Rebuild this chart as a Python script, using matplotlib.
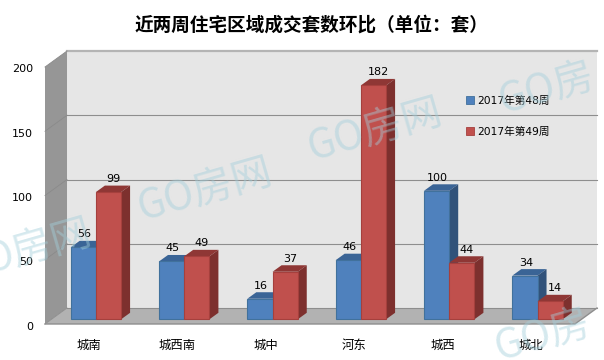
import matplotlib
matplotlib.use('Agg')
import matplotlib.pyplot as plt
from matplotlib.patches import Patch
from matplotlib.transforms import Bbox, ScaledTranslation

categories = ['城南', '城西南', '城中', '河东', '城西', '城北']
week_48 = [56, 45, 16, 46, 100, 34]
week_49 = [99, 49, 37, 182, 44, 14]
y_ticks = [0, 50, 100, 150, 200]
series_names = ['2017年第48周', '2017年第49周']
title = '近两周住宅区域成交套数环比（单位：套）'

CJK = ['Noto Sans CJK SC', 'DejaVu Sans']
LATIN = ['DejaVu Sans', 'Noto Sans CJK SC']

BLUE = ('#4F81BD', '#3A6496', '#31527A', '#41719C')
RED = ('#C0504D', '#8F3735', '#7D302E', '#A5403D')

W, H = 604, 360
PX_X = 88.3   # pixels per category
PX_Y = 1.285  # pixels per value unit


def dx(px):
    return px / PX_X


def dy(px):
    return px / PX_Y


fig = plt.figure(figsize=(W / 100, H / 100), dpi=100, facecolor='white')
ax = fig.add_axes([45 / W, (H - 324) / H, 530 / W, 257 / H])
ax.set_xlim(-0.5, 5.5)
ax.set_ylim(0, 200)
for spine in ax.spines.values():
    spine.set_visible(False)
ax.patch.set_visible(False)

ax.set_xticks(range(len(categories)))
ax.set_xticklabels(categories, family=CJK, fontsize=8.9)
ax.set_yticks(y_ticks)
ax.set_yticklabels(y_ticks, family=LATIN, fontsize=8)
ax.tick_params(axis='x', length=0, pad=11)
ax.tick_params(axis='y', length=0, pad=8.5)
nudge = ScaledTranslation(0, -1.5 / 100, fig.dpi_scale_trans)
for label in ax.get_yticklabels():
    label.set_transform(label.get_transform() + nudge)

# walls and floor of the box
back_x, back_y = dx(22), dy(16)
x0, x1 = -0.5, 5.5
ax.fill([x0 + back_x, x1 + back_x, x1 + back_x, x0 + back_x],
        [back_y, back_y, 200 + back_y, 200 + back_y],
        color='#E6E6E6', lw=0, clip_on=False, zorder=1)
ax.fill([x0, x0 + back_x, x0 + back_x, x0], [0, back_y, 200 + back_y, 200],
        color='#969696', lw=0, clip_on=False, zorder=1)
ax.fill([x0, x1, x1 + back_x, x0 + back_x], [0, 0, back_y, back_y],
        color='#B2B2B2', lw=0, clip_on=False, zorder=1)
for tick in y_ticks:
    ax.plot([x0 + back_x, x1 + back_x], [tick + back_y] * 2,
            color='#8E8E8E' if tick < 200 else '#B4B4B4',
            lw=0.8 if tick < 200 else 1.6, clip_on=False, zorder=2)
    ax.plot([x0, x0 + back_x], [tick, tick + back_y],
            color='#8A8A8A', lw=0.6, clip_on=False, zorder=2)
ax.plot([x0, x1, x1 + back_x], [0, 0, back_y], color='#8E8E8E', lw=1,
        clip_on=False, zorder=2)

# bars, drawn as oblique boxes standing on the floor
bar_w = dx(25.2)
base_x, base_y = dx(6.7), dy(4.7)
depth_x, depth_y = dx(9), dy(6.5)


def draw_bar(left, value, colors, zorder):
    front, top, side, edge = colors
    right = left + bar_w
    bottom = base_y
    upper = base_y + value
    ax.fill([left, left + depth_x, right + depth_x, right],
            [upper, upper + depth_y, upper + depth_y, upper],
            color=top, lw=0, clip_on=False, zorder=zorder)
    ax.fill([right, right + depth_x, right + depth_x, right],
            [bottom, bottom + depth_y, upper + depth_y, upper],
            color=side, lw=0, clip_on=False, zorder=zorder)
    ax.fill([left, right, right, left], [bottom, bottom, upper, upper],
            facecolor=front, edgecolor=edge, lw=0.8, clip_on=False, zorder=zorder)


for i, (a, b) in enumerate(zip(week_48, week_49)):
    left = i + base_x - bar_w
    draw_bar(left, a, BLUE, 3 + i * 0.1)
    draw_bar(i + base_x, b, RED, 3.05 + i * 0.1)
    ax.text(left + bar_w / 2 + dx(1), base_y + a + dy(13), str(a), family=LATIN, fontsize=8,
            ha='center', va='center', zorder=5)
    ax.text(i + base_x + bar_w / 2 + dx(5), base_y + b + dy(13), str(b), family=LATIN, fontsize=8,
            ha='center', va='center', zorder=5)

handles = [Patch(facecolor=BLUE[0], edgecolor=BLUE[3], lw=0.6, label=series_names[0]),
           Patch(facecolor=RED[0], edgecolor=RED[3], lw=0.6, label=series_names[1])]
ax.legend(handles=handles, loc='center left', bbox_to_anchor=(466 / W, (H - 116) / H),
          bbox_transform=fig.transFigure, frameon=False, handlelength=0.75, handleheight=0.75,
          handletextpad=0.25, labelspacing=1.95, borderpad=0, borderaxespad=0,
          prop={'family': LATIN, 'size': 7.7})

fig.text(311 / W, (H - 25) / H, title, family=CJK, fontsize=13.4, fontweight='bold',
         ha='center', va='center', color='black')

# GO房网 watermarks, in pixel positions; the ones at the picture's sides show only part
clip = Bbox([[0, 0], [590, H]])
for wx, wy, mark in [(205, 190, 'GO房网'), (375, 130, 'GO房网'), (38, 246, 'O房网'),
                     (547, 88, 'GO房'), (543, 335, 'GO房')]:
    t = fig.text(wx / W, (H - wy) / H, mark, family=CJK, fontsize=29, rotation=16,
                 ha='center', va='center', color='#A3CFDB', alpha=0.45, zorder=0.5)
    t.set_clip_box(clip)
    t.set_clip_on(True)

fig.savefig('out.png', dpi=100, facecolor='white')
